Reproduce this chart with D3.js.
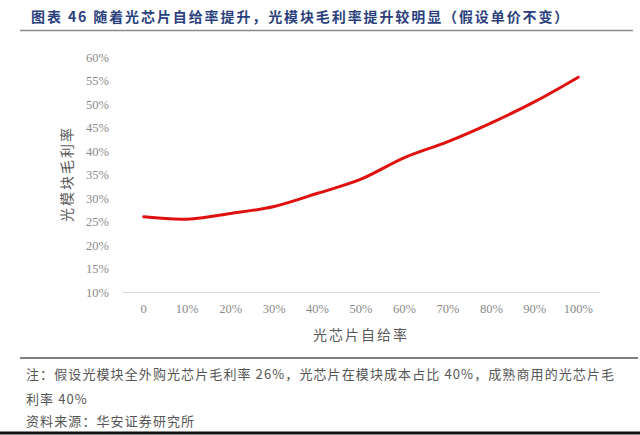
<!DOCTYPE html>
<html><head><meta charset="utf-8">
<script src="https://cdn.jsdelivr.net/npm/d3@7"></script>
<style>
html,body{margin:0;padding:0;background:#fff;}
svg{display:block;}
</style></head>
<body>
<svg id="c" width="640" height="435"></svg>
<script>
const categories = ["0","10%","20%","30%","40%","50%","60%","70%","80%","90%","100%"];
const margins = [26.0, 25.5, 26.7, 28.2, 31.0, 34.0, 38.6, 42.0, 46.0, 50.5, 55.7];
const yTicks = [10,15,20,25,30,35,40,45,50,55,60];
const titleText = "图表 46 随着光芯片自给率提升，光模块毛利率提升较明显（假设单价不变）";
const xTitle = "光芯片自给率";
const yTitle = "光模块毛利率";
const noteLines = ["注：假设光模块全外购光芯片毛利率 26%，光芯片在模块成本占比 40%，成熟商用的光芯片毛", "利率 40%"];
const sourceText = "资料来源：华安证券研究所";

const svg = d3.select("#c");
const cjk = "'Noto Sans CJK SC', sans-serif";
const serif = "'Liberation Serif', 'DejaVu Serif', serif";

// title
svg.append("text").attr("x",31).attr("y",22).text(titleText)
  .attr("font-family",cjk).attr("font-weight","bold").attr("font-size",14)
  .attr("fill","#2b3f7d").attr("letter-spacing",1.9);
svg.append("line").attr("x1",20).attr("x2",633).attr("y1",30.5).attr("y2",30.5)
  .attr("stroke","#8c8c8c").attr("stroke-width",1.5);

const x = d3.scaleBand().domain(categories).range([122,600]);
const y = d3.scaleLinear().domain([10,60]).range([292,57]);

// y axis (labels only)
const ya = svg.append("g").attr("transform","translate(112,0)")
  .call(d3.axisLeft(y).tickValues(yTicks).tickFormat(d=>d+"%").tickSize(0).tickPadding(3));
ya.select(".domain").remove();
ya.selectAll("text").attr("font-family",serif).attr("font-size",12.5).attr("fill","#8a8a8a");

// x axis
const xa = svg.append("g").attr("transform","translate(0,292)")
  .call(d3.axisBottom(x).tickSize(0).tickPadding(12));
xa.select(".domain").attr("stroke","#d9d9d9").attr("stroke-width",1);
xa.selectAll("text").attr("font-family",serif).attr("font-size",12.5).attr("fill","#8a8a8a");

// line
const line = d3.line().x((d,i)=>x(categories[i])+x.bandwidth()/2).y(d=>y(d)).curve(d3.curveCatmullRom.alpha(0.5));
svg.append("path").datum(margins).attr("d",line).attr("fill","none")
  .attr("stroke","#e0100f").attr("stroke-width",3).attr("stroke-linecap","round");

// axis titles
svg.append("text").attr("x",361).attr("y",340).attr("text-anchor","middle").text(xTitle)
  .attr("font-family",cjk).attr("font-size",14).attr("fill","#595959").attr("letter-spacing",2);
svg.append("text").attr("transform","translate(72,174) rotate(-90)").attr("text-anchor","middle").text(yTitle)
  .attr("font-family",cjk).attr("font-size",14).attr("fill","#595959").attr("letter-spacing",2);

// footer
svg.append("line").attr("x1",20).attr("x2",638).attr("y1",358).attr("y2",358)
  .attr("stroke","#7f7f7f").attr("stroke-width",2);
noteLines.forEach((t,i)=>{
  svg.append("text").attr("x",26).attr("y",379+i*25).text(t)
    .attr("font-family",cjk).attr("font-size",13).attr("fill","#555").attr("letter-spacing",1.1);
});
svg.append("text").attr("x",26).attr("y",426).text(sourceText)
  .attr("font-family",cjk).attr("font-size",13).attr("fill","#555").attr("letter-spacing",1.1);
svg.append("line").attr("x1",0).attr("x2",640).attr("y1",433).attr("y2",433)
  .attr("stroke","#111").attr("stroke-width",3);
</script>
</body></html>
